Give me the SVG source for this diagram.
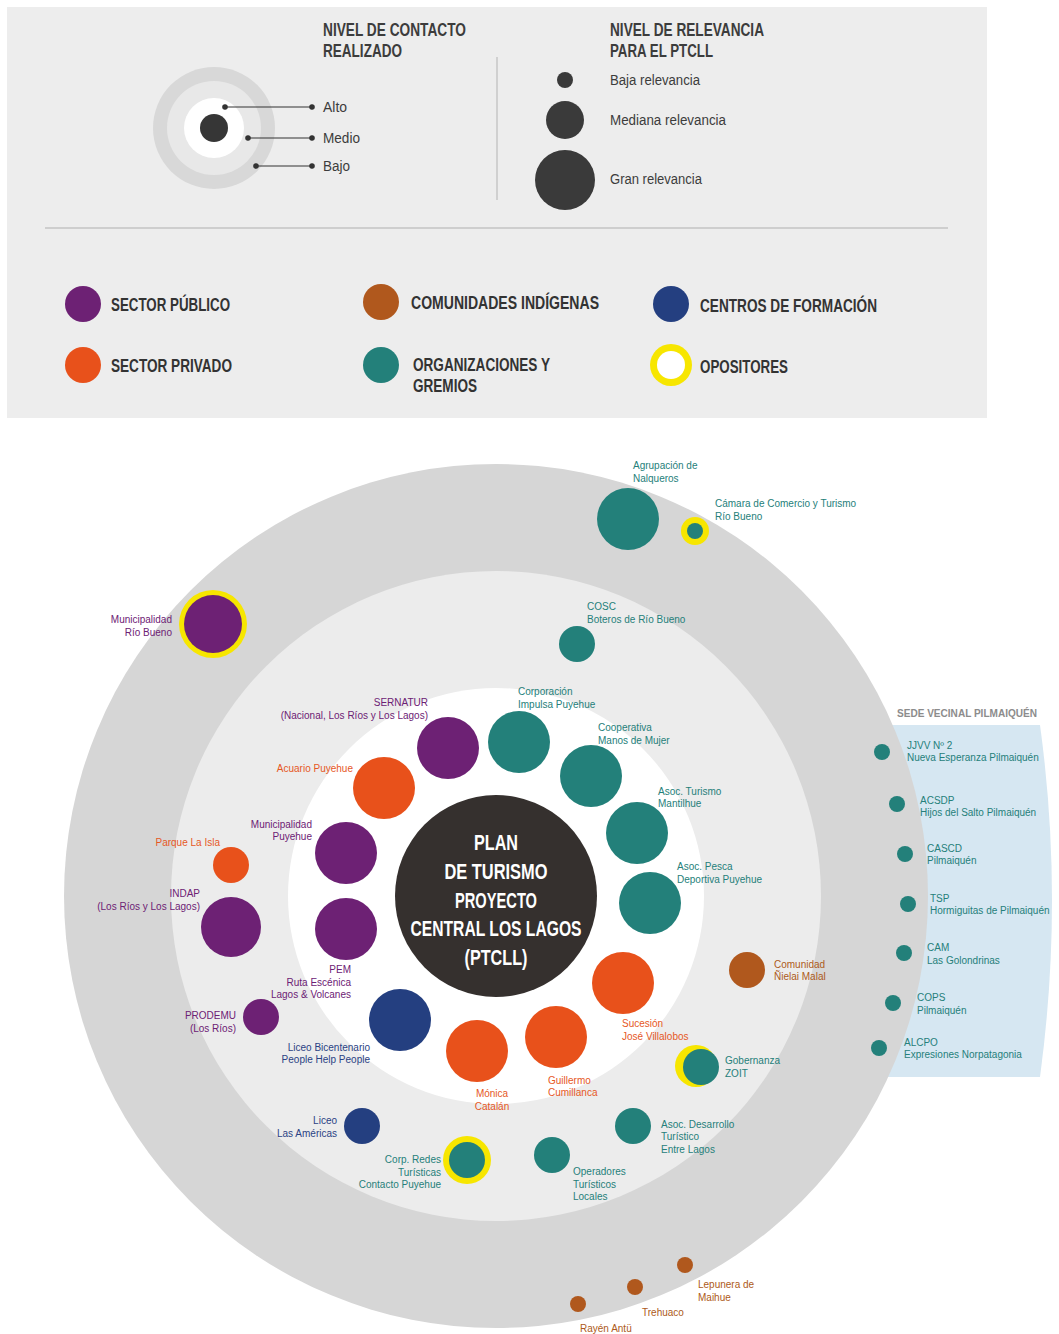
<svg xmlns="http://www.w3.org/2000/svg" width="1059" height="1334" viewBox="0 0 1059 1334">
<style>
text{font-family:"Liberation Sans",Arial,sans-serif}
.h{font-size:18px;fill:#3c3c3c;font-weight:bold}
.s{font-size:14px;fill:#3c3c3c}
.cat{font-size:18px;fill:#333;font-weight:bold}
.lb{font-size:10px}
.r{text-anchor:end}
.m{text-anchor:middle}
.pu{fill:#6d2174}.or{fill:#e8511b}.br{fill:#b0581d}.te{fill:#23807a}.nv{fill:#243f80}
.tpu{fill:#6d2174}.tor{fill:#e6581f}.tbr{fill:#ad5a20}.tte{fill:#25807a}.tnv{fill:#2a4284}
.yl{fill:#f7e600}
.ctr{font-size:22px;fill:#fff;text-anchor:middle;font-weight:bold}
</style>

<g id="legend">
  <rect x="7" y="7" width="980" height="411" fill="#ededed"/>
  <g id="legend-contacto">
    <circle cx="214" cy="128" r="61" fill="#d8d8d8"/>
    <circle cx="214" cy="128" r="47" fill="#e8e8e8"/>
    <circle cx="214" cy="128" r="30" fill="#ffffff"/>
    <circle cx="214" cy="128" r="14" fill="#363636"/>
    <g stroke="#333" stroke-width="1.2" fill="#333">
      <line x1="225" y1="107" x2="312" y2="107"/><circle cx="225" cy="107" r="2.2"/><circle cx="312" cy="107" r="2.2"/>
      <line x1="248" y1="138" x2="312" y2="138"/><circle cx="248" cy="138" r="2.2"/><circle cx="312" cy="138" r="2.2"/>
      <line x1="256" y1="166" x2="312" y2="166"/><circle cx="256" cy="166" r="2.2"/><circle cx="312" cy="166" r="2.2"/>
    </g>
    <text class="h" x="323" y="36" textLength="143" lengthAdjust="spacingAndGlyphs">NIVEL DE CONTACTO</text>
    <text class="h" x="323" y="57" textLength="79" lengthAdjust="spacingAndGlyphs">REALIZADO</text>
    <text class="s" x="323" y="112" textLength="24" lengthAdjust="spacingAndGlyphs">Alto</text>
    <text class="s" x="323" y="143" textLength="37" lengthAdjust="spacingAndGlyphs">Medio</text>
    <text class="s" x="323" y="171" textLength="27" lengthAdjust="spacingAndGlyphs">Bajo</text>
  </g>
  <line x1="497" y1="57" x2="497" y2="200" stroke="#bdbdbd" stroke-width="1.2"/>
  <g id="legend-relevancia">
    <circle cx="565" cy="80" r="8" fill="#3a3a3a"/>
    <circle cx="565" cy="120" r="19" fill="#3a3a3a"/>
    <circle cx="565" cy="180" r="30" fill="#3a3a3a"/>
    <text class="h" x="610" y="36" textLength="154" lengthAdjust="spacingAndGlyphs">NIVEL DE RELEVANCIA</text>
    <text class="h" x="610" y="57" textLength="103" lengthAdjust="spacingAndGlyphs">PARA EL PTCLL</text>
    <text class="s" x="610" y="85" textLength="90" lengthAdjust="spacingAndGlyphs">Baja relevancia</text>
    <text class="s" x="610" y="125" textLength="116" lengthAdjust="spacingAndGlyphs">Mediana relevancia</text>
    <text class="s" x="610" y="184" textLength="92" lengthAdjust="spacingAndGlyphs">Gran relevancia</text>
  </g>
  <line x1="45" y1="228" x2="948" y2="228" stroke="#b0b0b0" stroke-width="1.2"/>
  <g id="legend-categorias">
    <circle cx="83" cy="304" r="18" class="pu"/>
    <text class="cat" x="111" y="311" textLength="119" lengthAdjust="spacingAndGlyphs">SECTOR PÚBLICO</text>
    <circle cx="83" cy="365" r="18" class="or"/>
    <text class="cat" x="111" y="372" textLength="121" lengthAdjust="spacingAndGlyphs">SECTOR PRIVADO</text>
    <circle cx="381" cy="302" r="18" class="br"/>
    <text class="cat" x="411" y="309" textLength="188" lengthAdjust="spacingAndGlyphs">COMUNIDADES INDÍGENAS</text>
    <circle cx="381" cy="365" r="18" class="te"/>
    <text class="cat" x="413" y="371" textLength="137" lengthAdjust="spacingAndGlyphs">ORGANIZACIONES Y</text>
    <text class="cat" x="413" y="392" textLength="64" lengthAdjust="spacingAndGlyphs">GREMIOS</text>
    <circle cx="671" cy="304" r="18" class="nv"/>
    <text class="cat" x="700" y="312" textLength="177" lengthAdjust="spacingAndGlyphs">CENTROS DE FORMACIÓN</text>
    <circle cx="671" cy="365" r="21" class="yl"/>
    <circle cx="671" cy="365" r="14" fill="#ffffff"/>
    <text class="cat" x="700" y="373" textLength="88" lengthAdjust="spacingAndGlyphs">OPOSITORES</text>
  </g>
</g>

<g id="sede-vecinal-panel">
  <path d="M860 725 L1040 725 Q1064 900 1040 1077 L860 1077 Z" fill="#d6e7f2"/>
  <text x="897" y="717" font-size="11" font-weight="bold" fill="#8c8c8c" textLength="140" lengthAdjust="spacingAndGlyphs">SEDE VECINAL PILMAIQUÉN</text>
</g>

<g id="rings">
  <circle cx="496" cy="896" r="432" fill="#d6d6d6"/>
  <circle cx="496" cy="896" r="325" fill="#ececec"/>
  <circle cx="496" cy="896" r="208" fill="#ffffff"/>
</g>

<g id="connectors"></g>

<g id="center">
  <circle cx="496" cy="896" r="101" fill="#35302e"/>
  <text class="ctr" x="496" y="850" textLength="44" lengthAdjust="spacingAndGlyphs">PLAN</text>
  <text class="ctr" x="496" y="879" textLength="103" lengthAdjust="spacingAndGlyphs">DE TURISMO</text>
  <text class="ctr" x="496" y="908" textLength="82" lengthAdjust="spacingAndGlyphs">PROYECTO</text>
  <text class="ctr" x="496" y="936" textLength="171" lengthAdjust="spacingAndGlyphs">CENTRAL LOS LAGOS</text>
  <text class="ctr" x="496" y="965" textLength="63" lengthAdjust="spacingAndGlyphs">(PTCLL)</text>
</g>

<!-- Outer ring (Bajo) -->
<g id="agrupacion-nalqueros">
  <circle cx="628" cy="519" r="31" class="te"/>
  <text class="lb tte" x="633" y="469">Agrupación de</text>
  <text class="lb tte" x="633" y="482">Nalqueros</text>
</g>
<g id="camara-comercio">
  <circle cx="695" cy="531" r="14" class="yl"/>
  <circle cx="695" cy="531" r="8" class="te"/>
  <text class="lb tte" x="715" y="507">Cámara de Comercio y Turismo</text>
  <text class="lb tte" x="715" y="520">Río Bueno</text>
</g>
<g id="municipalidad-rio-bueno">
  <circle cx="213" cy="624" r="34" class="yl"/>
  <circle cx="213" cy="624" r="29" class="pu"/>
  <text class="lb tpu r" x="172" y="623">Municipalidad</text>
  <text class="lb tpu r" x="172" y="636">Río Bueno</text>
</g>
<g id="lepunera-maihue">
  <circle cx="685" cy="1265" r="8" class="br"/>
  <text class="lb tbr" x="698" y="1288">Lepunera de</text>
  <text class="lb tbr" x="698" y="1301">Maihue</text>
</g>
<g id="trehuaco">
  <circle cx="635" cy="1287" r="8" class="br"/>
  <text class="lb tbr" x="642" y="1316">Trehuaco</text>
</g>
<g id="rayen-antu">
  <circle cx="578" cy="1304" r="8" class="br"/>
  <text class="lb tbr" x="580" y="1332">Rayén Antü</text>
</g>

<!-- Sede vecinal -->
<g id="jjvv2">
  <circle cx="882" cy="752" r="8" class="te"/>
  <text class="lb tte" x="907" y="749">JJVV Nº 2</text>
  <text class="lb tte" x="907" y="761">Nueva Esperanza Pilmaiquén</text>
</g>
<g id="acsdp">
  <circle cx="897" cy="804" r="8" class="te"/>
  <text class="lb tte" x="920" y="804">ACSDP</text>
  <text class="lb tte" x="920" y="816">Hijos del Salto Pilmaiquén</text>
</g>
<g id="cascd">
  <circle cx="905" cy="854" r="8" class="te"/>
  <text class="lb tte" x="927" y="852">CASCD</text>
  <text class="lb tte" x="927" y="864">Pilmaiquén</text>
</g>
<g id="tsp">
  <circle cx="908" cy="904" r="8" class="te"/>
  <text class="lb tte" x="930" y="902">TSP</text>
  <text class="lb tte" x="930" y="914">Hormiguitas de Pilmaiquén</text>
</g>
<g id="cam">
  <circle cx="904" cy="953" r="8" class="te"/>
  <text class="lb tte" x="927" y="951">CAM</text>
  <text class="lb tte" x="927" y="964">Las Golondrinas</text>
</g>
<g id="cops">
  <circle cx="893" cy="1003" r="8" class="te"/>
  <text class="lb tte" x="917" y="1001">COPS</text>
  <text class="lb tte" x="917" y="1014">Pilmaiquén</text>
</g>
<g id="alcpo">
  <circle cx="879" cy="1048" r="8" class="te"/>
  <text class="lb tte" x="904" y="1046">ALCPO</text>
  <text class="lb tte" x="904" y="1058">Expresiones Norpatagonia</text>
</g>

<!-- Middle ring (Medio) -->
<g id="cosc">
  <circle cx="577" cy="644" r="18" class="te"/>
  <text class="lb tte" x="587" y="610">COSC</text>
  <text class="lb tte" x="587" y="623">Boteros de Río Bueno</text>
</g>
<g id="parque-la-isla">
  <circle cx="231" cy="865" r="18" class="or"/>
  <text class="lb tor r" x="220" y="846">Parque La Isla</text>
</g>
<g id="indap">
  <circle cx="231" cy="927" r="30" class="pu"/>
  <text class="lb tpu r" x="200" y="897">INDAP</text>
  <text class="lb tpu r" x="200" y="910">(Los Ríos y Los Lagos)</text>
</g>
<g id="prodemu">
  <circle cx="261" cy="1017" r="18" class="pu"/>
  <text class="lb tpu r" x="236" y="1019">PRODEMU</text>
  <text class="lb tpu r" x="236" y="1032">(Los Ríos)</text>
</g>
<g id="liceo-las-americas">
  <circle cx="362" cy="1126" r="18" class="nv"/>
  <text class="lb tnv r" x="337" y="1124">Liceo</text>
  <text class="lb tnv r" x="337" y="1137">Las Américas</text>
</g>
<g id="corp-redes">
  <circle cx="467" cy="1160" r="24" class="yl"/>
  <circle cx="467" cy="1160" r="18" class="te"/>
  <text class="lb tte r" x="441" y="1163">Corp. Redes</text>
  <text class="lb tte r" x="441" y="1176">Turísticas</text>
  <text class="lb tte r" x="441" y="1188">Contacto Puyehue</text>
</g>
<g id="operadores">
  <circle cx="552" cy="1155" r="18" class="te"/>
  <text class="lb tte" x="573" y="1175">Operadores</text>
  <text class="lb tte" x="573" y="1188">Turísticos</text>
  <text class="lb tte" x="573" y="1200">Locales</text>
</g>
<g id="asoc-desarrollo">
  <circle cx="633" cy="1126" r="18" class="te"/>
  <text class="lb tte" x="661" y="1128">Asoc. Desarrollo</text>
  <text class="lb tte" x="661" y="1140">Turístico</text>
  <text class="lb tte" x="661" y="1153">Entre Lagos</text>
</g>
<g id="gobernanza-zoit">
  <circle cx="696" cy="1066" r="21" class="yl"/>
  <circle cx="701" cy="1067" r="18" class="te"/>
  <text class="lb tte" x="725" y="1064">Gobernanza</text>
  <text class="lb tte" x="725" y="1077">ZOIT</text>
</g>
<g id="comunidad-nielai-malal">
  <circle cx="747" cy="970" r="18" class="br"/>
  <text class="lb tbr" x="774" y="968">Comunidad</text>
  <text class="lb tbr" x="774" y="980">Ñielai Malal</text>
</g>

<!-- Inner ring (Alto) -->
<g id="sernatur">
  <circle cx="448" cy="748" r="31" class="pu"/>
  <text class="lb tpu r" x="428" y="706">SERNATUR</text>
  <text class="lb tpu r" x="428" y="719">(Nacional, Los Ríos y Los Lagos)</text>
</g>
<g id="corporacion-impulsa">
  <circle cx="519" cy="742" r="31" class="te"/>
  <text class="lb tte" x="518" y="695">Corporación</text>
  <text class="lb tte" x="518" y="708">Impulsa Puyehue</text>
</g>
<g id="cooperativa-manos">
  <circle cx="591" cy="776" r="31" class="te"/>
  <text class="lb tte" x="598" y="731">Cooperativa</text>
  <text class="lb tte" x="598" y="744">Manos de Mujer</text>
</g>
<g id="asoc-turismo-mantilhue">
  <circle cx="637" cy="833" r="31" class="te"/>
  <text class="lb tte" x="658" y="795">Asoc. Turismo</text>
  <text class="lb tte" x="658" y="807">Mantilhue</text>
</g>
<g id="asoc-pesca">
  <circle cx="650" cy="903" r="31" class="te"/>
  <text class="lb tte" x="677" y="870">Asoc. Pesca</text>
  <text class="lb tte" x="677" y="883">Deportiva Puyehue</text>
</g>
<g id="sucesion-villalobos">
  <circle cx="623" cy="983" r="31" class="or"/>
  <text class="lb tor" x="622" y="1027">Sucesión</text>
  <text class="lb tor" x="622" y="1040">José Villalobos</text>
</g>
<g id="guillermo-cumillanca">
  <circle cx="556" cy="1037" r="31" class="or"/>
  <text class="lb tor" x="548" y="1084">Guillermo</text>
  <text class="lb tor" x="548" y="1096">Cumillanca</text>
</g>
<g id="monica-catalan">
  <circle cx="477" cy="1051" r="31" class="or"/>
  <text class="lb tor m" x="492" y="1097">Mónica</text>
  <text class="lb tor m" x="492" y="1110">Catalán</text>
</g>
<g id="liceo-bicentenario">
  <circle cx="400" cy="1020" r="31" class="nv"/>
  <text class="lb tnv r" x="370" y="1051">Liceo Bicentenario</text>
  <text class="lb tnv r" x="370" y="1063">People Help People</text>
</g>
<g id="pem">
  <circle cx="346" cy="929" r="31" class="pu"/>
  <text class="lb tpu r" x="351" y="973">PEM</text>
  <text class="lb tpu r" x="351" y="986">Ruta Escénica</text>
  <text class="lb tpu r" x="351" y="998">Lagos &amp; Volcanes</text>
</g>
<g id="municipalidad-puyehue">
  <circle cx="346" cy="853" r="31" class="pu"/>
  <text class="lb tpu r" x="312" y="828">Municipalidad</text>
  <text class="lb tpu r" x="312" y="840">Puyehue</text>
</g>
<g id="acuario-puyehue">
  <circle cx="384" cy="788" r="31" class="or"/>
  <text class="lb tor r" x="353" y="772">Acuario Puyehue</text>
</g>
</svg>
